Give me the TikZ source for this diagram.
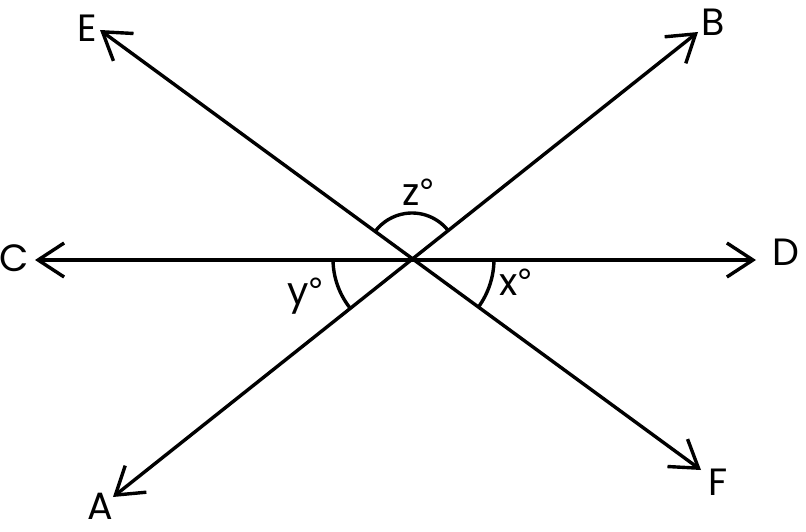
\documentclass[tikz,border=0pt]{standalone}
\usepackage{fontspec}
\setmainfont{Poppins}
\newfontfamily\degfont{Liberation Sans}
\newcommand{\dg}{{\degfont °}}
\usetikzlibrary{arrows.meta}
\begin{document}
\begin{tikzpicture}[x=1pt,y=-1pt,
  ray/.style={line width=3.4pt,{Straight Barb[length=26pt,width=34pt]}-{Straight Barb[length=26pt,width=34pt]}},
  anglearc/.style={line width=3.4pt},
  ptlabel/.style={inner sep=0pt,font=\fontsize{38}{40}\selectfont},
  anglabel/.style={inner sep=0pt,anchor=base west,font=\fontsize{38}{40}\selectfont}]
\useasboundingbox (0,0) rectangle (806,532);
\coordinate (O) at (412,259);
\coordinate (A) at (113,497);
\coordinate (B) at (698,32);
\coordinate (C) at (35,260);
\coordinate (D) at (756,260);
\coordinate (E) at (100,30);
\coordinate (F) at (701,470);
\draw[ray] (C) -- (D);
\draw[ray] (A) -- (B);
\draw[ray] (E) -- (F);
\draw[anglearc] (O) ++(38.4:46pt) arc[start angle=38.4,end angle=143.6,radius=46pt];
\draw[anglearc] (O) ++(0:82pt) arc[start angle=0,end angle=-36.1,radius=82pt];
\draw[anglearc] (O) ++(180:79pt) arc[start angle=180,end angle=218.5,radius=79pt];
\node[ptlabel] (lE) at (87,28) {E};
\node[ptlabel] (lB) at (713,22) {B};
\node[ptlabel] (lA) at (100,506) {A};
\node[ptlabel] (lF) at (718,482) {F};
\node[ptlabel] (lC) at (14,258) {C};
\node[ptlabel] (lD) at (786,252) {D};
\node[anglabel] (lz) at (402,205) {z\dg};
\node[anglabel] (lx) at (499,295) {x\dg};
\node[anglabel] (ly) at (287,304) {y\dg};
\end{tikzpicture}
\end{document}
